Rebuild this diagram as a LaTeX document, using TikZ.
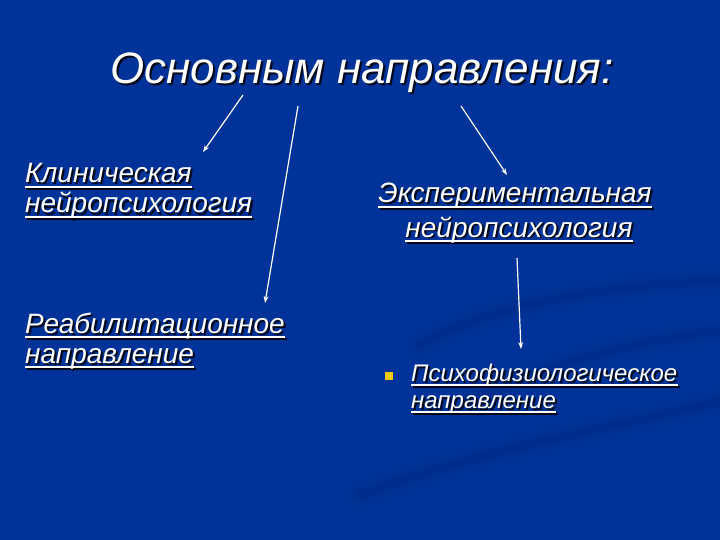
\documentclass[tikz,border=0pt]{standalone}
\usepackage{fontspec}
\setmainfont{Liberation Sans}
\usetikzlibrary{calc,arrows.meta}
\definecolor{bgtop}{HTML}{0A1840}
\definecolor{bgmid}{HTML}{0A2A7E}
\definecolor{bgbot}{HTML}{00339A}
\definecolor{bullety}{HTML}{F2C80A}
\pgfdeclareverticalshading{slidebg}{720pt}{color(0pt)=(bgbot); color(300pt)=(bgbot); color(430pt)=(bgmid); color(540pt)=(bgtop)}
\newcommand\stext[4]{%
  \node[#3, text=black, opacity=.85] (#1s) at ($(#2)+(2,2)$) {#4};
  \node[#3] (#1) at (#2) {#4};}
\newcommand\utext[4]{%
  \node[#3, text=black, opacity=.85] (#1s) at ($(#2)+(2,2)$) {#4};
  \draw[black, opacity=.85, line width=1.5pt] ($(#1s.base west)+(0,4)$) -- ($(#1s.base east)+(0,4)$);
  \node[#3] (#1) at (#2) {#4};
  \draw[white, line width=1.5pt] ($(#1.base west)+(0,4)$) -- ($(#1.base east)+(0,4)$);}
\begin{document}
\begin{tikzpicture}[x=1pt,y=-1pt,
  body/.style={font=\itshape\fontsize{28}{32}\selectfont, text=white, inner sep=0pt, anchor=base west},
  bodyc/.style={body, anchor=base},
  small/.style={font=\itshape\fontsize{24}{28}\selectfont, text=white, inner sep=0pt, anchor=base west},
  ttl/.style={font=\itshape\fontsize{44}{50}\selectfont, text=white, inner sep=0pt, anchor=base},
  arr/.style={draw=white, line width=1.2pt, -{Stealth[length=7pt,width=5pt]}},
  swirl/.style={line cap=round, draw=black}]
\useasboundingbox (0,0) rectangle (720,540);
\shade[shading=slidebg] (0,0) rectangle (720,540);
% faint background swirls
\foreach \w/\o in {34/0.015,24/0.02,14/0.025,6/0.03}{
  \draw[swirl, line width=\w pt, opacity=\o] (420,345) .. controls (500,300) and (620,285) .. (725,280);
  \draw[swirl, line width=\w pt, opacity=\o] (360,495) .. controls (480,450) and (600,430) .. (725,400);
  \draw[swirl, line width=\w pt, opacity=\o] (470,400) .. controls (560,360) and (640,340) .. (725,330);
}
% title
\stext{title}{362,84}{ttl}{Основным направления:}
% texts
\utext{klin1}{25,183}{body}{Клиническая}
\utext{klin2}{25,213}{body}{нейропсихология}
\utext{reab1}{25,333}{body}{Реабилитационное}
\utext{reab2}{25,363}{body}{направление}
\utext{exp1}{515,203}{bodyc}{Экспериментальная}
\utext{exp2}{519,237}{bodyc}{нейропсихология}
\node[fill=bullety, inner sep=0pt, minimum size=8pt] (bul) at (389,376) {};
\utext{psy1}{411,381}{small}{Психофизиологическое}
\utext{psy2}{411,408}{small}{направление}
% arrows
\coordinate (a1s) at (243,95);  \coordinate (a1e) at (203,152);
\coordinate (a2s) at (298,106); \coordinate (a2e) at (265,303);
\coordinate (a3s) at (461,106); \coordinate (a3e) at (507,175);
\coordinate (a4s) at (517,258); \coordinate (a4e) at (521,349);
\draw[arr] (a1s) -- (a1e);
\draw[arr] (a2s) -- (a2e);
\draw[arr] (a3s) -- (a3e);
\draw[arr] (a4s) -- (a4e);
\end{tikzpicture}
\end{document}
